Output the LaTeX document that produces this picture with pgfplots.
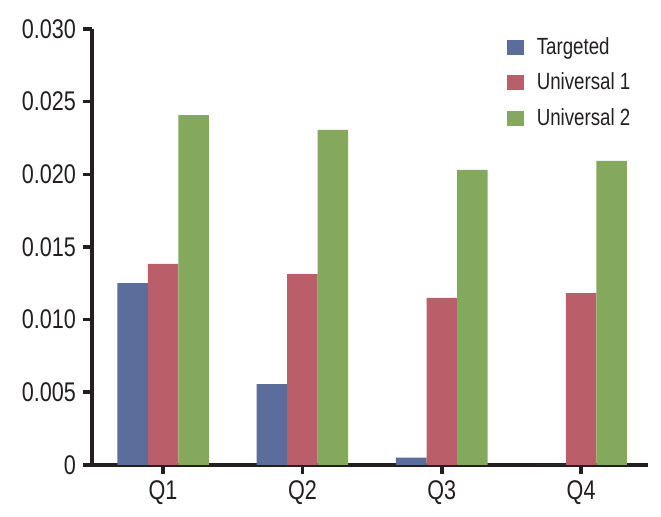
\documentclass[border=0pt]{standalone}
\usepackage{fontspec}
\setmainfont[FakeStretch=0.8]{Liberation Sans}
\usepackage{pgfplots}
\pgfplotsset{compat=1.18}
\definecolor{targ}{RGB}{90,109,155}
\definecolor{uni1}{RGB}{186,95,105}
\definecolor{uni2}{RGB}{132,168,92}
\definecolor{ink}{RGB}{35,31,32}
\begin{document}
\begin{tikzpicture}
\begin{axis}[
    width=278pt, height=218pt, scale only axis,
    xmin=-0.51, xmax=3.48, ymin=0, ymax=0.030,
    axis lines*=left, axis line style={ink, line width=1.8pt},
    xtick={0,1,2,3}, xticklabels={Q1,Q2,Q3,Q4},
    ytick={0,0.005,0.010,0.015,0.020,0.025,0.030},
    yticklabels={0,0.005,0.010,0.015,0.020,0.025,0.030},
    scaled y ticks=false,
    tick align=outside, major tick length=4.5pt,
    tick style={ink, line width=1.8pt},
    ticklabel style={font=\fontsize{13.5}{14}\selectfont, text=ink},
    /pgf/number format/assume math mode=true,
    clip=false,
    legend style={at={(0.746,0.99)}, anchor=north west, draw=none, fill=none,
        font=\fontsize{11.7}{13}\selectfont, text=ink,
        row sep=3.8pt, inner sep=0pt, outer sep=0pt,
        /tikz/every even column/.append style={column sep=0pt}},
    legend cell align=left,
    legend image code/.code={\fill[#1] (0pt,-3.7pt) rectangle (8.5pt,3.7pt);
        \path (13pt,0pt);},
]
\addplot[ybar, bar width=0.219, bar shift=-0.219, fill=targ, draw=none]
    coordinates {(0,0.01252) (1,0.00557) (2,0.0005) (3,0)};
\addplot[ybar, bar width=0.219, bar shift=0, fill=uni1, draw=none]
    coordinates {(0,0.01383) (1,0.01314) (2,0.01149) (3,0.01183)};
\addplot[ybar, bar width=0.219, bar shift=0.219, fill=uni2, draw=none]
    coordinates {(0,0.02408) (1,0.02305) (2,0.0203) (3,0.02092)};
\legend{Targeted,Universal 1,Universal 2}
\coordinate (bl) at (rel axis cs:-0.1655,-0.1193);
\coordinate (tr) at (rel axis cs:1.0234,1.0665);
\end{axis}
\pgfresetboundingbox
\path[use as bounding box] (bl) rectangle (tr);
\end{tikzpicture}
\end{document}
